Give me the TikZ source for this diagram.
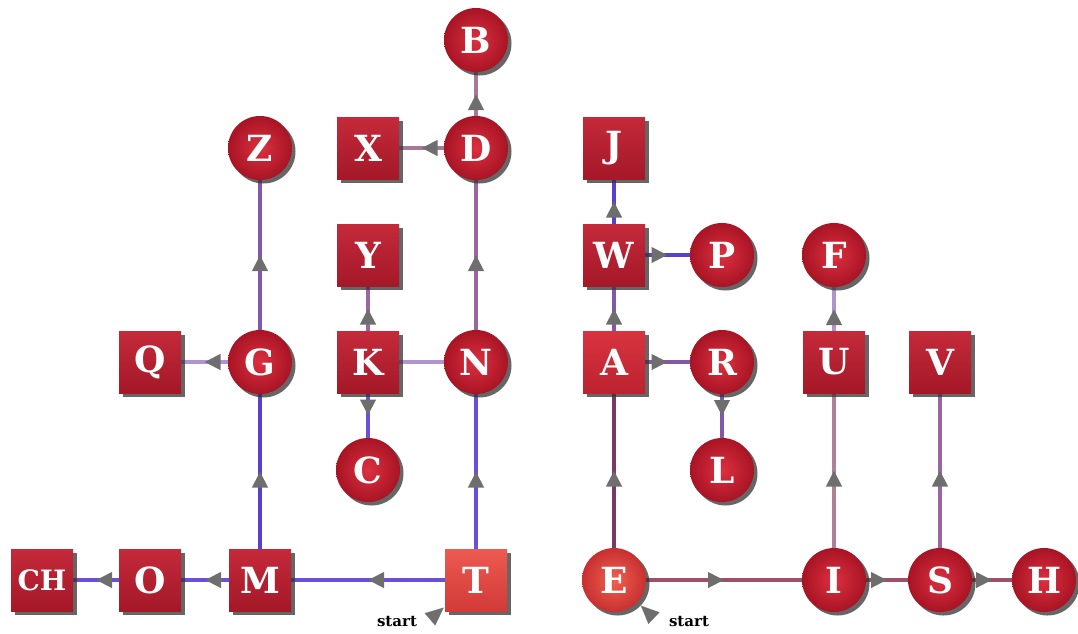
\documentclass[tikz,border=0pt]{standalone}
\usepackage{fontspec}
\newfontfamily\lblfont{DejaVu Serif}
\usetikzlibrary{shadows,arrows.meta,decorations.markings}
\pgfdeclarelayer{background}
\pgfsetlayers{background,main}
\definecolor{sqtop}{HTML}{C42A3A}
\definecolor{sqbot}{HTML}{A41828}
\definecolor{ltop}{HTML}{EC5A50}
\definecolor{lbot}{HTML}{D23A38}
\definecolor{atop}{HTML}{D8343F}
\definecolor{abot}{HTML}{BC2230}
\definecolor{cin}{HTML}{DC3040}
\definecolor{cout}{HTML}{A81424}
\definecolor{ecin}{HTML}{F06050}
\definecolor{ecout}{HTML}{C83030}
\definecolor{arrowgray}{HTML}{6E6E6E}
\definecolor{eblue}{HTML}{6A50D8}
\definecolor{edeep}{HTML}{5A40D0}
\definecolor{elilac}{HTML}{B094D0}
\definecolor{epurple}{HTML}{8458A8}
\definecolor{emauve}{HTML}{9A66A0}
\definecolor{epink}{HTML}{A87898}
\definecolor{emaroon}{HTML}{7A3868}
\definecolor{erose}{HTML}{9E5068}
\definecolor{epale}{HTML}{B08098}
\tikzset{
  base/.style={text=white, font=\lblfont\bfseries\fontsize{36}{36}\selectfont, inner sep=0pt,
    drop shadow={shadow xshift=3.5pt, shadow yshift=-3.5pt, fill=black!80, opacity=0.75}},
  sq/.style={base, rectangle, minimum size=62pt, top color=sqtop, bottom color=sqbot},
  sqlight/.style={sq, top color=ltop, bottom color=lbot},
  sqbright/.style={sq, top color=atop, bottom color=abot},
  circ/.style={base, circle, minimum size=64pt, inner color=cin, outer color=cout},
  circlight/.style={circ, inner color=ecin, outer color=ecout},
  link/.style={line width=4pt},
  arr/.style={link, postaction={decorate},
    decoration={markings, mark=at position 0.5 with {\arrow{Triangle[length=16pt,width=15pt,color=arrowgray]}}}},
  startarr/.style={white, line width=0.1pt, -{Triangle[length=18pt,width=16pt,color=arrowgray]}},
  starttext/.style={font=\lblfont\bfseries\fontsize{15}{15}\selectfont, text=black, inner sep=0pt},
}
\begin{document}
\begin{tikzpicture}[x=1pt,y=-1pt]
\useasboundingbox (0,0) rectangle (1078,633);
% nodes
\node[circ] (B) at (476,40) {B};
\node[circ] (Z) at (260,148) {Z};
\node[sq] (X) at (368,148) {X};
\node[circ] (D) at (476,148) {D};
\node[sq] (J) at (614,148) {J};
\node[sq] (Y) at (368,255) {Y};
\node[sq] (W) at (614,255) {W};
\node[circ] (P) at (722,255) {P};
\node[circ] (F) at (834,255) {F};
\node[sq] (Q) at (150,362) {Q};
\node[circ] (G) at (260,362) {G};
\node[sq] (K) at (368,362) {K};
\node[circ] (N) at (476,362) {N};
\node[sqbright] (A) at (614,362) {A};
\node[circ] (R) at (722,362) {R};
\node[sq] (U) at (834,362) {U};
\node[sq] (V) at (940,362) {V};
\node[circ] (C) at (368,470) {C};
\node[circ] (L) at (722,470) {L};
\node[sq, font=\lblfont\bfseries\fontsize{28}{28}\selectfont] (CH) at (42,580) {CH};
\node[sq] (O) at (150,580) {O};
\node[sq] (M) at (260,580) {M};
\node[sqlight] (T) at (476,580) {T};
\node[circlight] (E) at (614,580) {E};
\node[circ] (I) at (834,580) {I};
\node[circ] (S) at (940,580) {S};
\node[circ] (H) at (1044,580) {H};
\node[starttext] (st1) at (397,621) {start};
\node[starttext] (st2) at (689,621) {start};
\coordinate (s1) at (428,621);
\coordinate (s2) at (658,622);
\begin{pgfonlayer}{background}
% left component
\draw[arr, eblue] (T) -- (M);
\draw[arr, eblue] (M) -- (O);
\draw[arr, eblue] (O) -- (CH);
\draw[arr, edeep] (M) -- (G);
\draw[arr, elilac] (G) -- (Q);
\draw[arr, epurple] (G) -- (Z);
\draw[arr, eblue] (T) -- (N);
\draw[arr, emauve] (N) -- (D);
\draw[arr, epink] (D) -- (X);
\draw[arr, epink] (D) -- (B);
\draw[link, elilac] (K) -- (N);
\draw[arr, emauve] (K) -- (Y);
\draw[arr, eblue] (K) -- (C);
% right component
\draw[arr, emaroon] (E) -- (A);
\draw[arr, epurple] (A) -- (W);
\draw[arr, edeep] (W) -- (J);
\draw[arr, edeep] (W) -- (P);
\draw[arr, epurple] (A) -- (R);
\draw[arr, epurple] (R) -- (L);
\draw[arr, erose] (E) -- (I);
\draw[arr, epale] (I) -- (U);
\draw[arr, elilac] (U) -- (F);
\draw[arr, erose] (I) -- (S);
\draw[arr, emauve] (S) -- (V);
\draw[arr, erose] (S) -- (H);
\end{pgfonlayer}
\draw[startarr, shorten >=1.5pt] (s1) -- (T);
\draw[startarr, shorten >=5pt] (s2) -- (E);
\end{tikzpicture}
\end{document}
